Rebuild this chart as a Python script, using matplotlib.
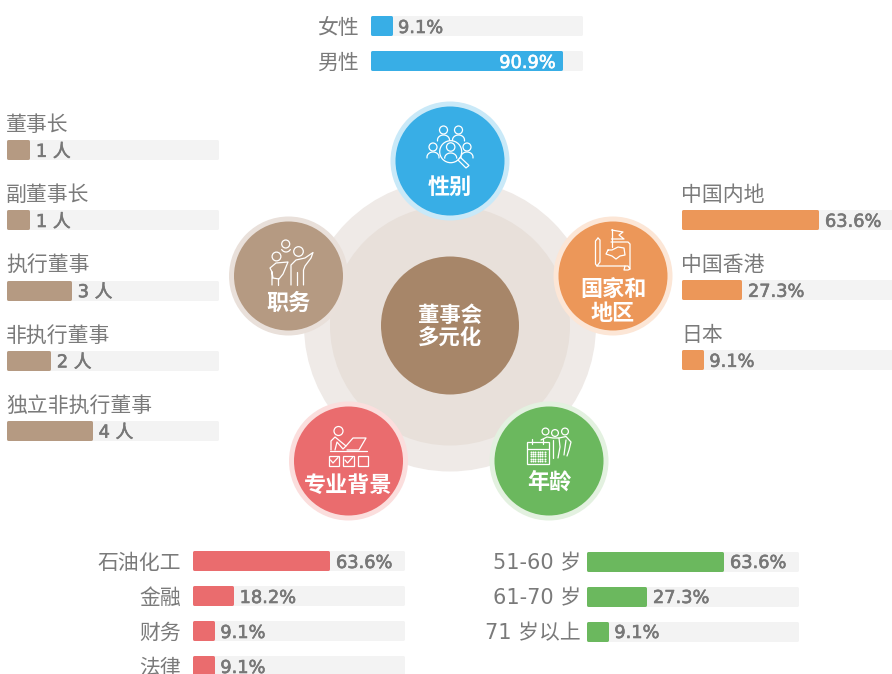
import numpy as np
import matplotlib
matplotlib.use("Agg")
import matplotlib.pyplot as plt
import matplotlib.patheffects as pe
from matplotlib.patches import Circle, Rectangle, Polygon

W, H = 892, 674
CJK = ['Noto Sans CJK SC', 'DejaVu Sans']
NUM = ['DejaVu Sans', 'Noto Sans CJK SC']
plt.rcParams['font.family'] = CJK

# ---- data ----
gender_labels = ['女性', '男性']
gender_values = [9.1, 90.9]
region_labels = ['中国内地', '中国香港', '日本']
region_values = [63.6, 27.3, 9.1]
role_labels = ['董事长', '副董事长', '执行董事', '非执行董事', '独立非执行董事']
role_values = [1, 1, 3, 2, 4]
background_labels = ['石油化工', '金融', '财务', '法律']
background_values = [63.6, 18.2, 9.1, 9.1]
age_labels = ['51-60 岁', '61-70 岁', '71 岁以上']
age_values = [63.6, 27.3, 9.1]
hub_labels = ['性别', '职务', '国家和\n地区', '专业背景', '年龄']
center_label = '董事会\n多元化'

BLUE, BROWN, ORANGE, RED, GREEN = '#38aee6', '#b59a82', '#ec9759', '#ea6c6e', '#6bb85e'
TRACK = '#f3f3f3'
LABEL = '#7a7a7a'
VALUE = '#777777'
PX = 0.72
EDGE = 3

fig = plt.figure(figsize=(W / 100, H / 100), dpi=100, facecolor='white')
bg = fig.add_axes([0, 0, 1, 1])
bg.set_xlim(0, W)
bg.set_ylim(H, 0)
bg.axis('off')


def bar_group(x0, y_first, pitch, values, labels, color, vmax, fmt, label_mode, inside=(), side_gap=12):
    n = len(values)
    top = y_first - pitch / 2
    ax = fig.add_axes([(x0 - 1 + EDGE / 2) / W, 1 - (top + pitch * n) / H, (212 - EDGE) / W, pitch * n / H])
    ax.patch.set_alpha(0)
    ax.axis('off')
    ax.set_xlim(0, vmax)
    ax.set_ylim(n - 0.5, -0.5)
    y = np.arange(n)
    h = (20 - EDGE) / pitch
    common = dict(height=h, linewidth=EDGE * PX, joinstyle='round', clip_on=False)
    ax.barh(y, [vmax] * n, color=TRACK, edgecolor=TRACK, **common)
    ax.barh(y, values, color=color, edgecolor=color, **common)
    stroke = [pe.withStroke(linewidth=0.45, foreground=VALUE)]
    stroke_w = [pe.withStroke(linewidth=0.45, foreground='white')]
    for i, v in enumerate(values):
        txt = fmt(v)
        if i in inside:
            ax.annotate(txt, (v, i), xytext=(-6, 0), textcoords='offset pixels', ha='right',
                        va='center_baseline', color='white', fontsize=12.8, family=NUM,
                        path_effects=stroke_w)
        else:
            ax.annotate(txt, (v, i), xytext=(7.5, 0), textcoords='offset pixels', ha='left',
                        va='center_baseline', color=VALUE, fontsize=12.8, family=NUM,
                        path_effects=stroke)
        if label_mode == 'side':
            ax.annotate(labels[i], (0, i), xytext=(-side_gap + 1 - EDGE / 2, 0), textcoords='offset pixels', ha='right',
                        va='center_baseline', color=LABEL, fontsize=15, annotation_clip=False, family=NUM)
        else:
            ax.annotate(labels[i], (0, i), xytext=(-1.5, 27), textcoords='offset pixels', ha='left',
                        va='center_baseline', color=LABEL, fontsize=15, annotation_clip=False, family=NUM)
    return ax


pct = lambda v: f'{v:.1f}%'
ppl = lambda v: f'{v} 人'

# ---- hub discs ----
CENTER = (450, 325.5)
bg.add_patch(Circle(CENTER, 146, fc='#efeae7', ec='none'))
bg.add_patch(Circle(CENTER, 120, fc='#e8e0da', ec='none'))
bg.add_patch(Circle(CENTER, 69, fc='#a78669', ec='none'))
bg.text(CENTER[0], CENTER[1] + 1, center_label, color='white', fontsize=15.4, fontweight='bold',
        ha='center', va='center', linespacing=1.1)

hubs = [((450, 161), BLUE, '#c9e9f8', (450, 187)),
        ((288.5, 276), BROWN, '#e9e0da', (289, 303)),
        ((613, 276), ORANGE, '#fce6d6', (613, 302)),
        ((348.5, 461), RED, '#fbdedd', (348, 485)),
        ((549, 461), GREEN, '#e3f1e0', (549, 482))]
for (c, col, ring_c, tp), lab in zip(hubs, hub_labels):
    bg.add_patch(Circle(c, 59.5, fc=ring_c, ec='none'))
    bg.add_patch(Circle(c, 54.5, fc=col, ec='none'))
    bg.text(tp[0], tp[1], lab, color='white', fontsize=15.9, fontweight='bold', ha='center',
            va='center', linespacing=1.05, zorder=5)

# ---- white line icons ----
ILW = 0.9


def ring(x, y, r):
    bg.add_patch(Circle((x, y), r, fc='none', ec='white', lw=ILW, zorder=5))


def line(xs, ys, lw=ILW):
    bg.plot(xs, ys, color='white', lw=lw, solid_capstyle='round', solid_joinstyle='round', zorder=5)


def arc(x, y, r, a0=180, a1=360, ry=None):
    t = np.radians(np.linspace(a0, a1, 30))
    line(x + r * np.cos(t), y + (ry or r) * np.sin(t))


def person(x, y, r=4.0, sw=6.0):
    ring(x, y, r)
    t = np.radians(np.linspace(180, 360, 30))
    line(np.r_[x - sw, x + sw * np.cos(t), x + sw],
         np.r_[y + r + 7, y + r + 6 + 5 * np.sin(t), y + r + 7])


# gender icon
person(443.5, 130)
person(458.5, 130)
person(433, 147)
person(467, 147)
bg.add_patch(Circle((450.7, 151.7), 11, fc=BLUE, ec='white', lw=ILW, zorder=5.5))
bg.add_patch(Circle((450.7, 147), 4.2, fc='none', ec='white', lw=ILW, zorder=6))
t = np.radians(np.linspace(180, 360, 30))
bg.plot(450.7 + 6 * np.cos(t), 158 + 5 * np.sin(t), color='white', lw=ILW, zorder=6)
bg.add_patch(Polygon([(458, 160), (460.5, 157.5), (469, 165.5), (466, 168)], closed=True, fc=BLUE, ec='white', lw=ILW, zorder=6))

# role icon
ring(285.7, 244, 4)
ring(276.5, 256.5, 4.4)
ring(298.5, 251.5, 4.8)
arc(286, 247, 5, 30, 150)
line([291, 291, 296, 305, 313, 311, 305, 303.5, 303.5], [285, 265, 260, 258, 252.5, 258, 266, 270, 285])
line([297, 297], [272, 285])
line([272, 272, 270, 276, 288, 283, 279, 273, 272],
     [285, 272, 268, 263, 262, 274, 279, 278, 272])
line([278, 278], [278, 285])

# region icon
line([598, 595.5, 595.5, 597, 628, 630, 630, 628, 611], [238, 241, 264, 266, 266, 269, 244, 242, 242])
line([598, 600, 600, 597], [238, 240, 262, 266])
line([630, 628, 624, 625], [269, 270, 270, 266])
line([611.5, 611.5], [229, 247])
line([611.5, 623, 619, 624, 611.5], [230, 232, 235, 239, 239])
line([608, 612, 618, 624, 625, 620, 616, 612, 606, 608],
     [250, 250, 247, 248, 255, 256, 259, 256, 254, 250])

# background icon
ring(338.5, 431, 4.5)
line([331, 331, 335, 346, 343, 337, 335], [450, 441, 437, 446, 449, 442, 450])
line([346, 353, 366, 359, 347], [446, 438, 438, 450, 450])
line([330, 367], [451, 451])
for bx in (328.5, 343, 357.5):
    bg.add_patch(Rectangle((bx, 455.5), 10.5, 10.5, fc='none', ec='white', lw=ILW, zorder=5))
for bx in (328.5, 343):
    line([bx + 2, bx + 4.5, bx + 9.5], [460, 463, 457.5])

# age icon
for hx, hy in ((545.5, 431.5), (555, 433), (565, 431.5)):
    ring(hx, hy, 3.4)
line([541, 547, 553, 559, 560, 558], [440, 437, 438, 438, 447, 458])
line([553, 553], [440, 458])
line([559, 566, 571, 569, 567], [438, 436.5, 442, 450, 456])
line([566, 564], [440, 455])
bg.add_patch(Rectangle((527, 442), 21.5, 21.5, fc=GREEN, ec='white', lw=ILW, zorder=5))
line([527, 548.5], [449, 449])
line([532, 532], [439, 444])
line([543, 543], [439, 444])
gx, gy = np.meshgrid(np.arange(530.5, 546, 2.4), np.arange(451.5, 462, 2.4))
bg.scatter(gx.ravel(), gy.ravel(), s=2.0, c='white', linewidths=0, zorder=5)

# ---- bar groups ----
bar_group(371, 26, 35, gender_values, gender_labels, BLUE, 100, pct, 'side', inside=(1,))
bar_group(7, 149.8, 70.2, role_values, role_labels, BROWN, 10, ppl, 'above')
bar_group(682, 219.8, 70, region_values, region_labels, ORANGE, 98.5, pct, 'above')
bar_group(193, 561, 35, background_values, background_labels, RED, 98.5, pct, 'side')
bar_group(587, 561, 35, age_values, age_labels, GREEN, 98.5, pct, 'side', side_gap=6)

fig.savefig('out.png', dpi=100, facecolor='white')
